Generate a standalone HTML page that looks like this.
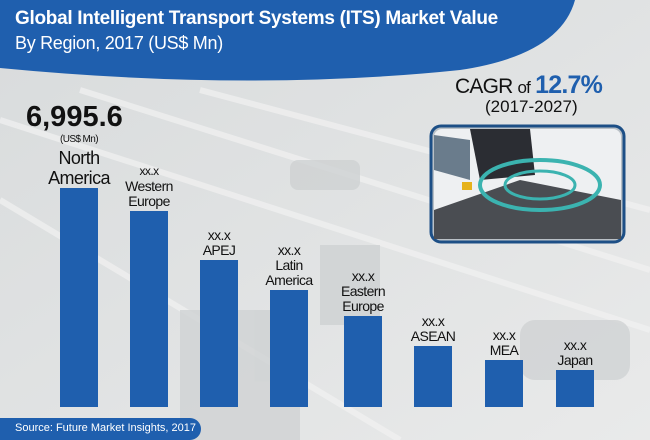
<!DOCTYPE html>
<html><head><meta charset="utf-8"><style>
body{margin:0;width:650px;height:440px;overflow:hidden;font-family:"Liberation Sans",sans-serif;position:relative;background:#e2e4e4}
.t{position:absolute;text-align:center;color:#111;font-size:14px;line-height:15px;letter-spacing:-0.6px}
.b{position:absolute;background:#1f5fae;bottom:33px;width:38px}
</style></head><body>
<svg width="650" height="440" style="position:absolute;left:0;top:0">
<defs><linearGradient id="g" x1="0" y1="0" x2="1" y2="1"><stop offset="0" stop-color="#d8dbdc"/><stop offset="1" stop-color="#e9eaea"/></linearGradient></defs>
<rect width="650" height="440" fill="url(#g)"/>
<g stroke="#f2f2f2" stroke-width="6" opacity="0.7">
<line x1="0" y1="120" x2="650" y2="330"/><line x1="80" y1="90" x2="650" y2="270"/><line x1="0" y1="200" x2="400" y2="440"/><line x1="200" y1="90" x2="650" y2="210"/>
</g>
<g fill="#cfd2d3" opacity="0.8"><rect x="290" y="160" width="70" height="30" rx="8"/><rect x="320" y="245" width="60" height="80"/><rect x="180" y="310" width="120" height="130"/><rect x="520" y="320" width="110" height="60" rx="15"/></g>
<path d="M0 0 H575 Q560 55 460 70 Q250 92 0 68 Z" fill="#1f5fae"/>
<path d="M0 418 H190 A11 11 0 0 1 190 440 H0 Z" fill="#1f5fae"/>
<rect x="431" y="126" width="193" height="116" rx="10" fill="#b9c0c6" stroke="#1d4f86" stroke-width="3"/>
<rect x="434" y="129" width="187" height="110" rx="8" fill="#eef0f2"/>
<polygon points="470,129 530,129 535,175 480,180" fill="#2b2d33"/>
<polygon points="434,135 470,140 470,180 434,170" fill="#6a7c8c"/>
<polygon points="434,210 520,180 621,200 621,239 434,239" fill="#4a4d52"/>
<ellipse cx="540" cy="185" rx="60" ry="25" fill="none" stroke="#3bb3b0" stroke-width="4"/>
<ellipse cx="540" cy="185" rx="35" ry="14" fill="none" stroke="#3bb3b0" stroke-width="3"/>
<rect x="462" y="182" width="10" height="8" fill="#e6b21c"/>
</svg>
<div style="position:absolute;left:15px;top:8px;color:#fff;font-weight:bold;font-size:19px;letter-spacing:-0.3px">Global Intelligent Transport Systems (ITS) Market Value</div>
<div style="position:absolute;left:15px;top:33px;color:#fff;font-size:18px;letter-spacing:-0.3px">By Region, 2017 (US$ Mn)</div>
<div style="position:absolute;left:455px;top:71px;font-size:21px;color:#111;letter-spacing:-0.8px">CAGR <span style="font-size:17px">of</span> <span style="color:#1f5fae;font-weight:bold;font-size:25px">12.7%</span></div>
<div style="position:absolute;left:485px;top:97px;font-size:17px;color:#111">(2017-2027)</div>
<div style="position:absolute;left:26px;top:101px;font-size:29px;font-weight:bold;color:#111">6,995.6</div>
<div class="t" style="left:39px;top:132px;width:80px;font-size:10px">(US$ Mn)</div>
<div class="t" style="left:39px;bottom:252px;width:80px;font-size:18px;line-height:20px">North<br>America</div>
<div class="b" style="left:60px;top:188px"></div>
<div class="t" style="left:109px;bottom:231px;width:80px"><span style="font-size:12px">xx.x</span><br>Western<br>Europe</div>
<div class="b" style="left:130px;top:211px"></div>
<div class="t" style="left:179px;bottom:182px;width:80px">xx.x<br>APEJ</div>
<div class="b" style="left:200px;top:260px"></div>
<div class="t" style="left:249px;bottom:152px;width:80px">xx.x<br>Latin<br>America</div>
<div class="b" style="left:270px;top:290px"></div>
<div class="t" style="left:323px;bottom:126px;width:80px">xx.x<br>Eastern<br>Europe</div>
<div class="b" style="left:344px;top:316px"></div>
<div class="t" style="left:393px;bottom:96px;width:80px">xx.x<br>ASEAN</div>
<div class="b" style="left:414px;top:346px"></div>
<div class="t" style="left:464px;bottom:82px;width:80px">xx.x<br>MEA</div>
<div class="b" style="left:485px;top:360px"></div>
<div class="t" style="left:535px;bottom:72px;width:80px">xx.x<br>Japan</div>
<div class="b" style="left:556px;top:370px"></div>
<div style="position:absolute;left:15px;top:422px;color:#fff;font-size:11px">Source: Future Market Insights, 2017</div>
</body></html>
